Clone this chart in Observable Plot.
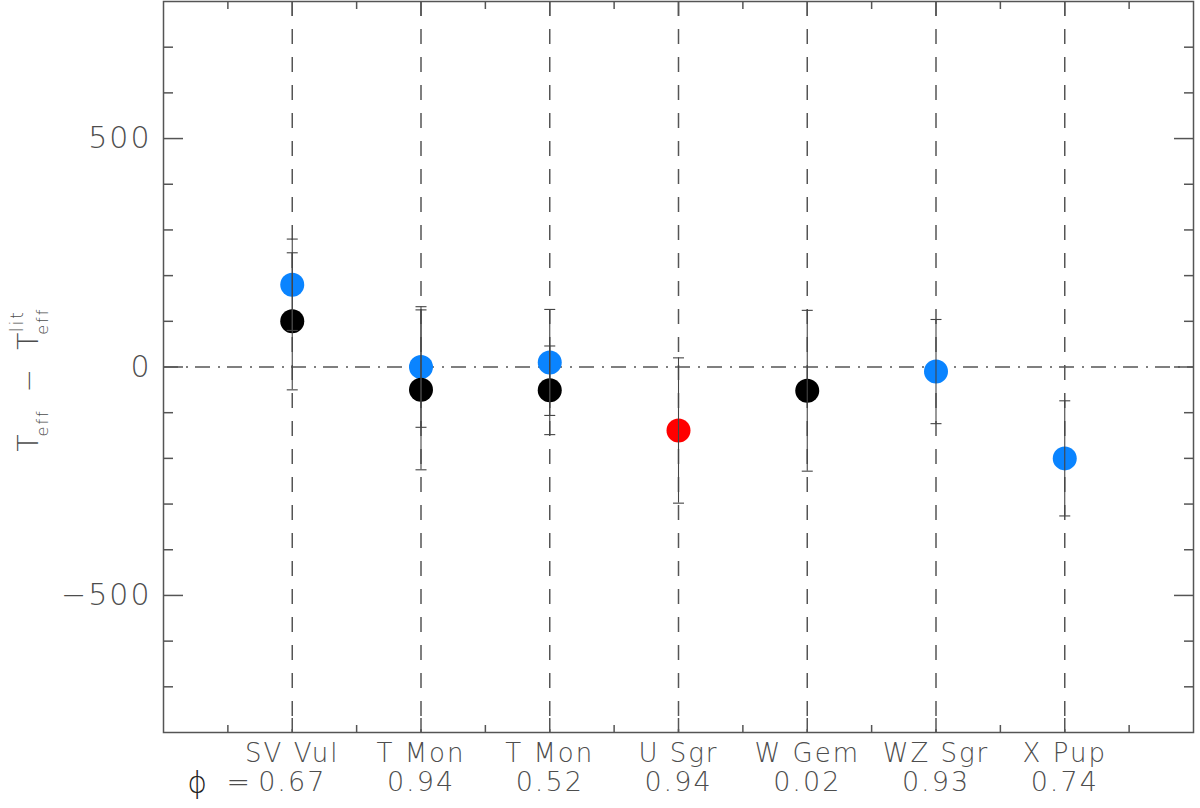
<!DOCTYPE html>
<html><head><meta charset="utf-8">
<script src="https://cdn.jsdelivr.net/npm/d3@7"></script>
<script src="https://cdn.jsdelivr.net/npm/@observablehq/plot@0.6"></script>
<style>
html,body{margin:0;padding:0;background:#fff;}
#chart svg{display:block;}
#chart svg text{letter-spacing:2px;}
</style></head><body><div id="chart"></div>
<script>
// ---- data ----
const starNames = ["SV Vul", "T Mon", "T Mon", "U Sgr", "W Gem", "WZ Sgr", "X Pup"];
const phases = ["0.67", "0.94", "0.52", "0.94", "0.02", "0.93", "0.74"];
const positions = [1, 2, 3, 4, 5, 6, 7];

const blueX = [1, 2, 3, 6, 7];
const blueY = [180, 0, 10, -10, -200];
const blueErr = [100, 132, 116, 114, 126];

const blackX = [1, 2, 3, 5];
const blackY = [100, -50, -51, -52];
const blackErr = [150, 175, 97, 176];

const redX = [4];
const redY = [-139];
const redErr = [159];

const yMajorTicks = [-500, 0, 500];
const yMinorTicks = [-700, -600, -400, -300, -200, -100, 100, 200, 300, 400, 600, 700];
const xMinorTicks = [0.5, 1.5, 2.5, 3.5, 4.5, 5.5, 6.5, 7.5];

// ---- build table ----
const series = [
  {color: "#0a84ff", xs: blueX, ys: blueY, errs: blueErr},
  {color: "#000000", xs: blackX, ys: blackY, errs: blackErr},
  {color: "#ff0000", xs: redX, ys: redY, errs: redErr}
];
const rows = [];
for (const s of series) s.xs.forEach((x, i) => rows.push({x, y: s.ys[i], err: s.errs[i], color: s.color}));
const caps = rows.flatMap(r => [{x: r.x, y: r.y + r.err}, {x: r.x, y: r.y - r.err}]);

const FONT = "'DejaVu Sans', 'Open Sans', sans-serif";
const W = 200;
const INK = "#4d4d4d";
const LINE = "#555";

const capSymbol = {draw(ctx, size) { const r = Math.sqrt(size / Math.PI); ctx.moveTo(-r, 0); ctx.lineTo(r, 0); }};

const chart = Plot.plot({
  width: 1200, height: 808,
  marginLeft: 163, marginRight: 7, marginTop: 1, marginBottom: 76,
  style: {fontFamily: FONT, color: INK, background: "#fff"},
  x: {domain: [0, 8]},
  y: {domain: [-800, 800]},
  marks: [
    // reference lines
    Plot.ruleX(positions, {stroke: LINE, strokeWidth: 1.5, strokeDasharray: "15,13"}),
    Plot.ruleY([0], {stroke: LINE, strokeWidth: 1.5, strokeDasharray: "15,8,2,7"}),
    // dots
    Plot.dot(rows, {x: "x", y: "y", r: 12, fill: "color", stroke: null}),
    // error bars
    Plot.ruleX(rows, {x: "x", y1: d => d.y - d.err, y2: d => d.y + d.err, stroke: "#444", strokeWidth: 1.1}),
    Plot.dot(caps, {x: "x", y: "y", r: 5.5, symbol: capSymbol, fill: "none", stroke: "#444", strokeWidth: 1.1}),
    // axis ticks (inward)
    Plot.axisY({ticks: yMinorTicks, anchor: "left", tickSize: -10, fill: "none", label: null, stroke: LINE, strokeWidth: 1.5}),
    Plot.axisY({ticks: yMajorTicks, anchor: "left", tickSize: -20, fill: "none", label: null, stroke: LINE, strokeWidth: 1.5}),
    Plot.axisY({ticks: yMinorTicks, anchor: "right", tickSize: -10, fill: "none", label: null, stroke: LINE, strokeWidth: 1.5}),
    Plot.axisY({ticks: yMajorTicks, anchor: "right", tickSize: -20, fill: "none", label: null, stroke: LINE, strokeWidth: 1.5}),
    Plot.axisX({ticks: xMinorTicks, anchor: "bottom", tickSize: -7, fill: "none", label: null, stroke: LINE, strokeWidth: 1.5}),
    Plot.axisX({ticks: positions, anchor: "bottom", tickSize: -14, fill: "none", label: null, stroke: LINE, strokeWidth: 1.5}),
    Plot.axisX({ticks: xMinorTicks, anchor: "top", tickSize: -7, fill: "none", label: null, stroke: LINE, strokeWidth: 1.5}),
    Plot.axisX({ticks: positions, anchor: "top", tickSize: -14, fill: "none", label: null, stroke: LINE, strokeWidth: 1.5}),
    // tick labels
    Plot.axisY({ticks: yMajorTicks, anchor: "left", tickSize: 0, tickPadding: 12, label: null, fontSize: 30, fontWeight: W, fill: INK}),
    Plot.axisX({ticks: positions, anchor: "bottom", tickSize: 0, tickPadding: 11, label: null, fontSize: 26, fontWeight: W, fill: INK,
      tickFormat: d => starNames[d - 1]}),
    Plot.axisX({ticks: positions, anchor: "bottom", tickSize: 0, tickPadding: 39, label: null, fontSize: 27, fontWeight: W, fill: INK,
      tickFormat: d => phases[d - 1]}),
    Plot.text(["ϕ"], {x: positions[0], frameAnchor: "bottom", dx: -94, dy: 60, fontSize: 30, fontWeight: W, fill: "#222", lineAnchor: "bottom"}),
    Plot.text(["="], {x: positions[0], frameAnchor: "bottom", dx: -53, dy: 58, fontSize: 28, fontWeight: W, fill: INK, lineAnchor: "bottom"}),
    Plot.frame({stroke: LINE, strokeWidth: 1.5})
  ]
});
document.getElementById("chart").appendChild(chart);

// y-axis label with sub/superscripts
const svg = d3.select(chart.tagName.toLowerCase() === "svg" ? chart : chart.querySelector("svg"));
const g = svg.append("g").attr("fill", INK).attr("font-family", FONT).attr("font-weight", W);
let cursor = 0;
function piece(text, size, dy, advance = true, gapAfter = 0) {
  const t = g.append("text").attr("x", cursor).attr("y", dy).attr("font-size", size).text(text);
  const w = t.node().getComputedTextLength();
  if (advance) cursor += w + gapAfter;
  return w;
}
piece("T", 28, 0, true, 0);
piece("eff", 16, 10, true, 16);
piece("−", 28, 0, true, 14);
piece("T", 28, 0, true, 0);
const start = cursor;
const w1 = piece("eff", 16, 10, false);
piece("lit", 17, -15, false);
cursor = start + w1;
const total = cursor;
g.attr("transform", `translate(38, ${368 + total / 2}) rotate(-90)`);
</script>
</body></html>
